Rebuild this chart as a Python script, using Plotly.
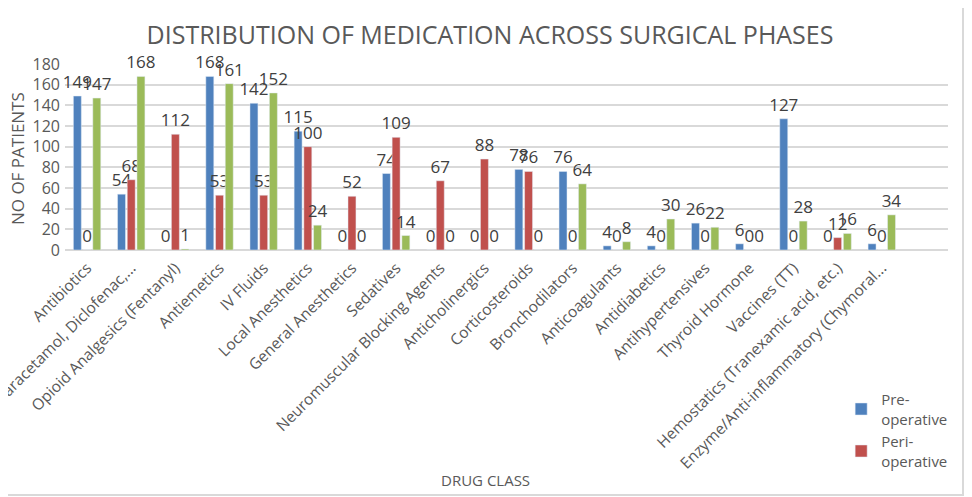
import plotly.graph_objects as go

# drug classes (x axis)
drug_classes = [
    "Antibiotics", "(Paracetamol, Diclofenac,...", "Opioid Analgesics (Fentanyl)",
    "Antiemetics", "IV Fluids", "Local Anesthetics", "General Anesthetics",
    "Sedatives", "Neuromuscular Blocking Agents", "Anticholinergics",
    "Corticosteroids", "Bronchodilators", "Anticoagulants", "Antidiabetics",
    "Antihypertensives", "Thyroid Hormone", "Vaccines (TT)",
    "Hemostatics (Tranexamic acid, etc.)", "Enzyme/Anti-inflammatory (Chymoral...",
]

pre_op = [149, 54, 0, 168, 142, 115, 0, 74, 0, 0, 78, 76, 4, 4, 26, 6, 127, 0, 6]
peri_op = [0, 68, 112, 53, 53, 100, 52, 109, 67, 88, 76, 0, 0, 0, 0, 0, 0, 12, 0]
post_op = [147, 168, 1, 161, 152, 24, 0, 14, 0, 0, 0, 64, 8, 30, 22, 0, 28, 16, 34]

y_ticks = list(range(0, 181, 20))

FONT = "Open Sans"
GREY = "#595959"

fig = go.Figure()
series = [
    ("Pre-<br>operative", pre_op, "#4F81BD", True),
    ("Peri-<br>operative", peri_op, "#C0504D", True),
    ("Post-<br>operative", post_op, "#9BBB59", False),
]
for name, vals, col, show in series:
    fig.add_trace(go.Bar(
        x=drug_classes, y=vals, name=name, marker_color=col,
        text=[str(v) for v in vals], textposition="outside",
        textfont=dict(size=17, color="#404040", family=FONT),
        constraintext="none", cliponaxis=False, showlegend=show,
    ))

# page body has an 8px margin, so the figure is 8px smaller than the window
fig.update_layout(
    width=964, height=489,
    margin=dict(l=57, r=24, t=56, b=247),
    paper_bgcolor="white", plot_bgcolor="white",
    barmode="group", bargap=0.34, bargroupgap=0.18,
    font=dict(family=FONT, color=GREY),
    title=dict(text="DISTRIBUTION OF MEDICATION ACROSS SURGICAL PHASES",
               x=0.5, xanchor="center", y=0.945, yanchor="middle",
               font=dict(size=25, color=GREY, family=FONT)),
    legend=dict(x=0.879, y=-0.715, xanchor="left", yanchor="top",
                font=dict(size=15, color=GREY), tracegroupgap=12,
                itemwidth=30, bgcolor="rgba(0,0,0,0)"),
    xaxis=dict(range=[-0.5, 19.5], tickangle=-45, tickfont=dict(size=15.5, color=GREY),
               showgrid=False, showline=False, ticks="", automargin=False,
               ticklabelstandoff=5),
    yaxis=dict(range=[0, 180], tickvals=y_ticks, tickfont=dict(size=16, color=GREY),
               showgrid=True, gridcolor="#D9D9D9", gridwidth=2,
               zeroline=True, zerolinecolor="#D9D9D9", zerolinewidth=2,
               showline=False, ticks="", ticklabelstandoff=4, automargin=False),
    annotations=[
        dict(text="NO OF PATIENTS", xref="paper", yref="paper", x=-0.053, y=0.49,
             xanchor="center", yanchor="middle",
             textangle=-90, showarrow=False, font=dict(size=17, color=GREY)),
        dict(text="DRUG CLASS", xref="paper", yref="paper", x=0.476, y=-1.237,
             xanchor="center", yanchor="middle",
             showarrow=False, font=dict(size=15, color=GREY)),
    ],
    shapes=[dict(type="rect", xref="paper", yref="paper",
                 x0=-0.1, x1=1.017, y0=-1.317, y1=1.4,
                 line=dict(color="#D9D9D9", width=2))],
)

fig.write_html("out.html")
